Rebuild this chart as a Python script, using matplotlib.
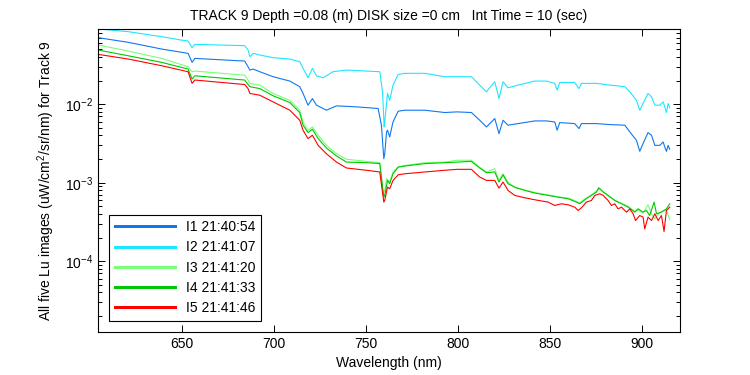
import numpy as np
import matplotlib
matplotlib.use('Agg')
import matplotlib.pyplot as plt
from matplotlib.ticker import LogLocator, NullFormatter

plt.rcParams['font.family'] = ['Liberation Sans', 'DejaVu Sans']
plt.rcParams['mathtext.fontset'] = 'custom'
plt.rcParams['mathtext.rm'] = 'Liberation Sans'

# --- data (wavelength nm, Lu uW/cm2/sr/nm) ---
wl_i1 = [604.5, 620.8, 639.0, 653.4, 655.6, 657.1, 684.2, 686.0, 687.0, 688.8,
         692.4, 699.6, 708.7, 714.1, 715.9, 718.6, 721.0, 723.2, 728.6, 734.1,
         744.9, 756.7, 758.5, 759.8, 760.3, 761.3, 761.8, 763.0, 764.8, 767.6,
         771.2, 782.1, 792.9, 799.6, 807.4, 811.9, 815.6, 820.1, 822.4, 824.6,
         827.3, 832.8, 841.8, 848.2, 852.7, 854.0, 855.4, 863.5, 865.9, 867.2,
         875.4, 882.6, 890.8, 893.5, 897.1, 898.9, 900.7, 903.4, 905.3, 907.1,
         909.8, 911.6, 912.5, 913.4, 914.3, 915.2]
lu_i1 = [0.0703, 0.0614, 0.0504, 0.0444, 0.0341, 0.0383, 0.0354, 0.0300, 0.0272, 0.0280,
         0.0259, 0.0224, 0.0197, 0.0167, 0.0137, 0.00971, 0.0118, 0.00971, 0.00838, 0.00952,
         0.00925, 0.00881, 0.00540, 0.00202, 0.00234, 0.00443, 0.00466, 0.00383, 0.00594, 0.00814,
         0.00838, 0.00838, 0.00783, 0.00798, 0.00783, 0.00625, 0.00513, 0.00656, 0.00422, 0.00625,
         0.00540, 0.00566, 0.00612, 0.00612, 0.00594, 0.00466, 0.00583, 0.00566, 0.00489, 0.00566,
         0.00566, 0.00550, 0.00540, 0.00443, 0.00347, 0.00251, 0.00315, 0.00435, 0.00402, 0.00299,
         0.00299, 0.00330, 0.00285, 0.00251, 0.00299, 0.00266]

wl_i2 = [604.5, 620.8, 639.0, 649.5, 653.4, 655.6, 657.1, 684.2, 686.0, 687.0,
         688.8, 692.4, 699.6, 708.7, 714.1, 715.9, 718.6, 721.0, 723.2, 726.8,
         732.2, 739.5, 750.4, 757.6, 759.1, 760.0, 760.3, 761.8, 763.0, 764.8,
         767.6, 771.2, 782.1, 792.9, 799.6, 807.4, 811.9, 815.6, 820.1, 822.4,
         824.6, 827.3, 832.8, 841.8, 848.2, 852.7, 854.0, 855.4, 863.5, 865.9,
         867.2, 875.4, 882.6, 890.8, 893.5, 897.1, 898.9, 900.7, 903.4, 905.3,
         907.1, 909.8, 911.6, 912.5, 913.4, 914.3, 915.2]
lu_i2 = [0.0908, 0.0839, 0.0724, 0.0656, 0.0638, 0.0524, 0.0578, 0.0556, 0.0490, 0.0403,
         0.0444, 0.0423, 0.0391, 0.0376, 0.0348, 0.0286, 0.0217, 0.0286, 0.0230, 0.0217,
         0.0259, 0.0272, 0.0264, 0.0259, 0.0144, 0.00513, 0.00594, 0.0137, 0.0112, 0.0175,
         0.0239, 0.0247, 0.0247, 0.0224, 0.0224, 0.0224, 0.0175, 0.0144, 0.0193, 0.0118,
         0.0193, 0.0162, 0.0175, 0.0197, 0.0197, 0.0184, 0.0151, 0.0189, 0.0189, 0.0158,
         0.0184, 0.0184, 0.0175, 0.0167, 0.0144, 0.0112, 0.00838, 0.0102, 0.0137, 0.0124,
         0.00971, 0.00971, 0.0107, 0.00925, 0.00783, 0.0102, 0.00898]

wl_i3 = [604.5, 620.8, 639.0, 653.4, 655.6, 657.1, 684.2, 686.0, 687.0, 692.4,
         699.6, 708.7, 714.1, 715.9, 718.6, 721.0, 724.1, 728.6, 734.1, 739.5,
         750.4, 757.6, 759.4, 760.3, 761.3, 763.0, 764.8, 767.6, 771.2, 782.1,
         792.9, 799.6, 807.4, 811.9, 815.6, 820.1, 822.4, 824.6, 827.3, 831.0,
         836.4, 841.9, 849.1, 854.5, 860.0, 864.5, 866.3, 869.0, 872.6, 875.4,
         877.2, 879.0, 881.7, 885.3, 889.0, 892.6, 896.2, 898.0, 900.7, 903.4,
         905.3, 907.1, 909.8, 913.4, 915.2]
lu_i3 = [0.0568, 0.0475, 0.0383, 0.0300, 0.0259, 0.0264, 0.0234, 0.0203, 0.0184, 0.0175,
         0.0137, 0.0112, 0.00838, 0.00594, 0.00466, 0.00513, 0.00402, 0.00299, 0.00234, 0.00199,
         0.00187, 0.00180, 0.000722, 0.000800, 0.00113, 0.00102, 0.00137, 0.00158, 0.00166, 0.00180,
         0.00183, 0.00193, 0.00193, 0.00158, 0.00137, 0.00151, 0.00107, 0.00130, 0.00102, 0.000860,
         0.000810, 0.000750, 0.000700, 0.000660, 0.000640, 0.000580, 0.000555, 0.000620, 0.000700, 0.000790,
         0.000840, 0.000770, 0.000680, 0.000600, 0.000545, 0.000500, 0.000430, 0.000450, 0.000410, 0.000523,
         0.000400, 0.000347, 0.000420, 0.000450, 0.000337]

wl_i4 = [604.5, 620.8, 639.0, 653.4, 655.6, 657.1, 684.2, 686.0, 687.0, 692.4,
         699.6, 708.7, 714.1, 715.9, 718.6, 721.0, 724.1, 728.6, 734.1, 739.5,
         750.4, 757.6, 759.8, 760.3, 761.8, 763.0, 764.8, 767.6, 771.2, 782.1,
         792.9, 799.6, 807.4, 811.9, 815.6, 820.1, 822.4, 824.6, 827.3, 831.0,
         836.4, 841.9, 849.1, 854.5, 860.0, 864.5, 866.3, 869.0, 872.6, 875.4,
         876.6, 879.0, 881.7, 885.3, 889.0, 892.6, 896.2, 898.0, 900.7, 902.5,
         904.3, 906.7, 908.0, 910.7, 913.4, 915.2]
lu_i4 = [0.0490, 0.0414, 0.0341, 0.0280, 0.0209, 0.0230, 0.0203, 0.0178, 0.0167, 0.0158,
         0.0128, 0.0105, 0.00783, 0.00540, 0.00435, 0.00480, 0.00365, 0.00277, 0.00219, 0.00183,
         0.00180, 0.00175, 0.000656, 0.000689, 0.00107, 0.000971, 0.00130, 0.00158, 0.00163, 0.00175,
         0.00180, 0.00183, 0.00187, 0.00154, 0.00134, 0.00137, 0.00102, 0.00126, 0.000971, 0.000879,
         0.000798, 0.000738, 0.000689, 0.000655, 0.000624, 0.000566, 0.000539, 0.000606, 0.000689, 0.000759,
         0.000863, 0.000759, 0.000689, 0.000594, 0.000539, 0.000488, 0.000422, 0.000465, 0.000422, 0.000443,
         0.000382, 0.000566, 0.000402, 0.000422, 0.000465, 0.000539]

wl_i5 = [604.5, 620.8, 639.0, 653.4, 655.6, 657.1, 684.2, 686.0, 687.0, 692.4,
         699.6, 708.7, 714.1, 715.9, 718.6, 721.0, 724.1, 728.6, 734.1, 739.5,
         750.4, 757.6, 759.8, 760.3, 761.8, 763.0, 764.8, 767.6, 771.2, 782.1,
         792.9, 799.6, 807.4, 811.9, 815.6, 820.1, 822.4, 824.6, 827.3, 831.0,
         836.4, 841.9, 849.1, 852.7, 856.3, 860.0, 863.6, 865.4, 867.2, 869.9,
         872.6, 874.5, 877.2, 879.0, 881.7, 883.5, 885.3, 887.1, 889.0, 891.7,
         893.5, 895.3, 896.6, 898.9, 900.7, 901.6, 903.4, 905.3, 907.1, 908.9,
         910.7, 912.1, 913.4, 915.2]
lu_i5 = [0.0431, 0.0376, 0.0309, 0.0259, 0.0184, 0.0203, 0.0178, 0.0158, 0.0137, 0.0130,
         0.0107, 0.00838, 0.00625, 0.00466, 0.00365, 0.00402, 0.00299, 0.00234, 0.00183, 0.00154,
         0.00144, 0.00137, 0.000566, 0.000594, 0.000879, 0.000837, 0.00107, 0.00126, 0.00130, 0.00137,
         0.00144, 0.00148, 0.00148, 0.00118, 0.00107, 0.00107, 0.000853, 0.00102, 0.000798, 0.000689,
         0.000643, 0.000606, 0.000566, 0.000513, 0.000539, 0.000523, 0.000488, 0.000443, 0.000479, 0.000566,
         0.000594, 0.000689, 0.000723, 0.000689, 0.000594, 0.000513, 0.000539, 0.000465, 0.000488, 0.000422,
         0.000465, 0.000402, 0.000330, 0.000382, 0.000364, 0.000258, 0.000364, 0.000330, 0.000402, 0.000330,
         0.000382, 0.000239, 0.000443, 0.000488]

labels = ['I1 21:40:54', 'I2 21:41:07', 'I3 21:41:20', 'I4 21:41:33', 'I5 21:41:46']
colors = ['#0f78f0', '#1ee6ff', '#78ff78', '#00c800', '#ff0000']

fig = plt.figure(figsize=(7.5, 3.75), dpi=100)
ax = fig.add_axes([0.131, 0.115, 0.775, 0.809])

series = [(wl_i1, lu_i1), (wl_i2, lu_i2), (wl_i3, lu_i3), (wl_i4, lu_i4), (wl_i5, lu_i5)]
for (wl, lu), lab, c in zip(series, labels, colors):
    ax.plot(wl, lu, color=c, linewidth=0.8, label=lab)

ax.set_yscale('log')
ax.set_xlim(604.6, 920.5)
ax.set_ylim(1.26e-5, 0.092)
ax.set_xticks([650, 700, 750, 800, 850, 900])
ax.yaxis.set_major_locator(LogLocator(base=10))
ax.yaxis.set_minor_locator(LogLocator(base=10, subs=np.arange(2, 10)))
ax.yaxis.set_minor_formatter(NullFormatter())
ax.tick_params(which='both', direction='in', top=True, right=True, labelsize=10)
ax.tick_params(which='major', length=5, width=0.7)
ax.tick_params(which='minor', length=3, width=0.7)
for s in ax.spines.values():
    s.set_linewidth(0.8)

ax.set_title('TRACK 9 Depth =0.08 (m) DISK size =0 cm   Int Time = 10 (sec)', fontsize=10, pad=6)
ax.set_xlabel('Wavelength (nm)', fontsize=10)
ax.set_ylabel('All five Lu images (uW/cm$^2$/sr/nm) for Track 9', fontsize=10, labelpad=6)

leg = ax.legend(loc='lower left', fontsize=10, handlelength=4.3, fancybox=False,
                edgecolor='black', framealpha=1, borderaxespad=0.8, labelspacing=0.45)
leg.get_frame().set_linewidth(0.8)
for h in leg.get_lines():
    h.set_linewidth(0.9)
    h.set_antialiased(False)

fig.savefig('out.png', dpi=100)
